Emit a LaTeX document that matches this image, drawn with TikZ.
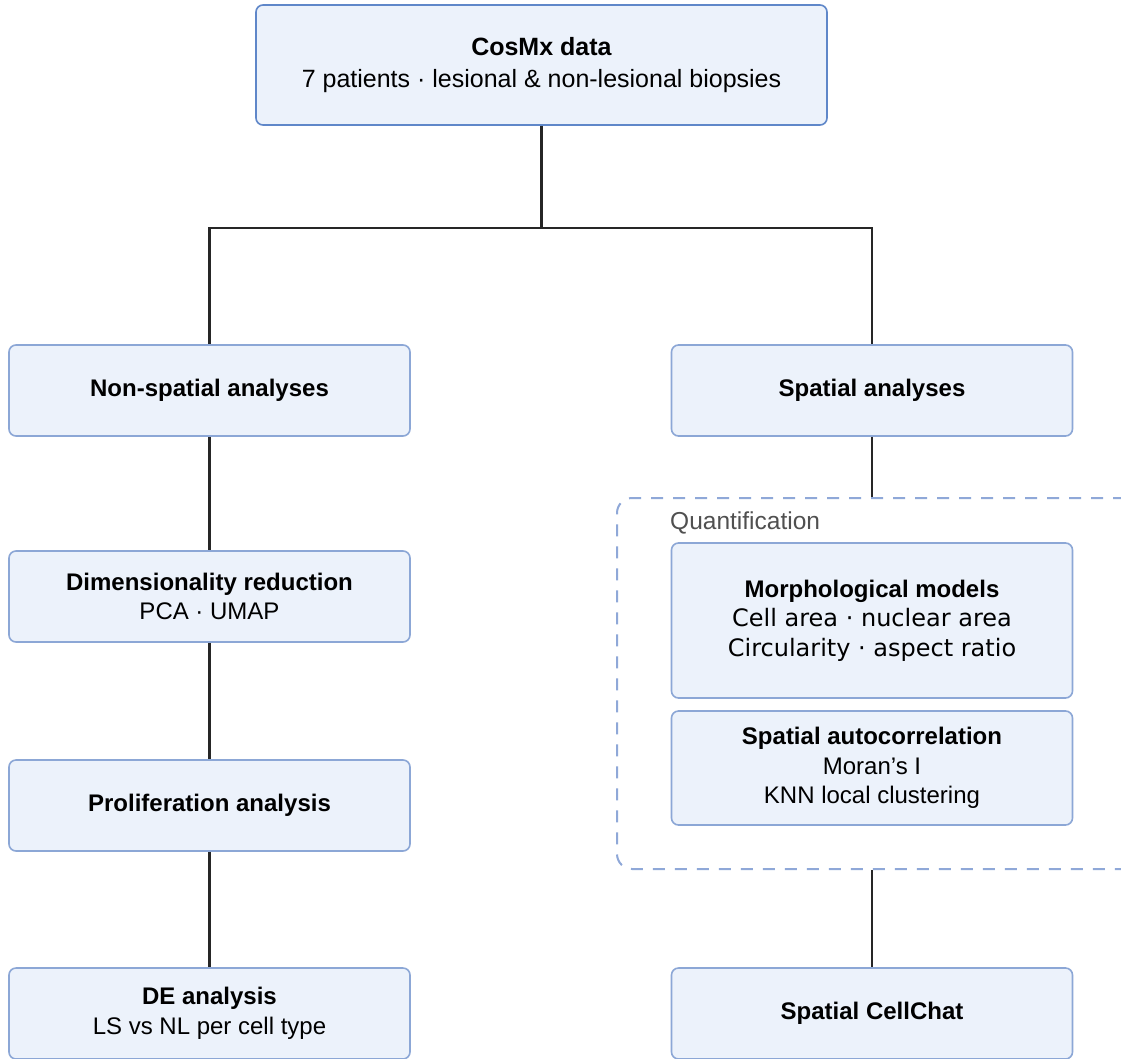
\documentclass[tikz,border=0pt]{standalone}
\usepackage{fontspec}
\setmainfont{Liberation Sans}
\newfontfamily\djv{DejaVu Sans}
\definecolor{boxfill}{HTML}{ECF2FB}
\definecolor{boxline}{HTML}{8CA7D6}
\definecolor{topline}{HTML}{5F87C9}
\definecolor{conn}{HTML}{262626}
\definecolor{quant}{HTML}{505050}
\definecolor{dashline}{HTML}{8FA8D8}
\begin{document}
\begin{tikzpicture}[x=1pt,y=-1pt,
  box/.style={draw=boxline, line width=1.6pt, fill=boxfill, rounded corners=7pt,
    minimum width=401pt, minimum height=91pt, align=center, inner sep=0pt,
    font=\fontsize{24}{29.5}\selectfont},
  link/.style={draw=conn, line width=2.2pt},
  clusterbox/.style={draw=dashline, line width=2pt, dash pattern=on 12pt off 10pt,
    rounded corners=15pt, minimum width=523pt, minimum height=371pt, inner sep=0pt}]
\useasboundingbox (0,0) rectangle (1121,1058);
\fill[white] (0,0) rectangle (1121,1058);

% top
\node[box, draw=topline, minimum width=571pt, minimum height=120pt,
  font=\fontsize{25}{31.5}\selectfont] (top) at (541.5,65)
  {\textbf{CosMx data}\\7 patients · lesional \& non-lesional biopsies};

% left column
\node[box] (nonsp) at (209.5,390.5) {\textbf{Non-spatial analyses}};
\node[box] (dim) at (209.5,596.5) {\textbf{Dimensionality reduction}\\PCA · UMAP};
\node[box] (prolif) at (209.5,805.5) {\textbf{Proliferation analysis}};
\node[box] (de) at (209.5,1013.5) {\textbf{DE analysis}\\LS vs NL per cell type};

% right column
\node[box] (sp) at (872,390.5) {\textbf{Spatial analyses}};
\node[clusterbox] (cluster) at (878.5,683.5) {};
\node[anchor=west, text=quant, inner sep=0pt, font=\fontsize{24.5}{28}\selectfont]
  (quantlbl) at (670,523) {Quantification};
\node[box, minimum height=155pt] (morph) at (872,620.5)
  {\textbf{Morphological models}\\{\djv Cell area · nuclear area}\\{\djv Circularity · aspect ratio}};
\node[box, minimum height=114pt] (autoc) at (872,768)
  {\textbf{Spatial autocorrelation}\\Moran{\char"0027}s I\\KNN local clustering};
\node[box] (chat) at (872,1013.5) {\textbf{Spatial CellChat}};

% connectors
\coordinate (j) at (541.5,228);
\draw[link] (top.south) -- (j) -| (nonsp.north);
\draw[link] (j) -| (sp.north);
\draw[link] (nonsp.south) -- (dim.north);
\draw[link] (dim.south) -- (prolif.north);
\draw[link] (prolif.south) -- (de.north);
\draw[link] (sp.south) -- (sp.south |- cluster.north);
\draw[link] (chat.north |- cluster.south) -- (chat.north);
\end{tikzpicture}
\end{document}
